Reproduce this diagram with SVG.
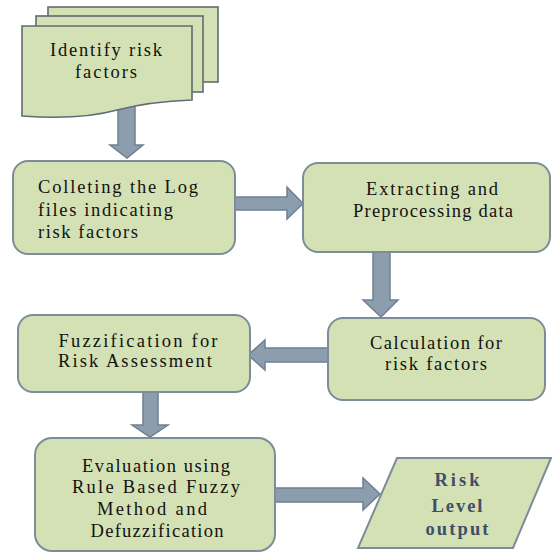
<svg xmlns="http://www.w3.org/2000/svg" width="552" height="554" viewBox="0 0 552 554">
<style>
.box{fill:#d4e1b4;stroke:#7c8c99;stroke-width:2}
.doc{fill:#d4e1b4;stroke:#5f6c72;stroke-width:1.6}
.arr{fill:#8c9dad;stroke:#6e8091;stroke-width:1.5}
.t{font-family:"Liberation Serif","Times New Roman",serif;font-size:18.5px;fill:#111}
.b{font-family:"Liberation Serif","Times New Roman",serif;font-size:18.5px;font-weight:bold;fill:#3e4f69}
</style>
<rect width="552" height="554" fill="#ffffff"/>
<g id="connectors">
<polygon class="arr" points="118,104 135,104 135,145 143,145 127,158 110,145 118,145"/>
<polygon class="arr" points="235,197 287,197 287,187 303,203.5 287,219 287,210 235,210"/>
<polygon class="arr" points="373,252 390,252 390,300 398,300 381,317 363,300 373,300"/>
<polygon class="arr" points="328,348 265,348 265,340 248,355 265,370 265,362 328,362"/>
<polygon class="arr" points="143,392 158,392 158,425 168,425 150,437 132,425 143,425"/>
<polygon class="arr" points="275,488 363,488 363,478 380,494 363,510 363,502 275,502"/>
</g>
<g id="node-identify">
<rect class="doc" x="48" y="7" width="170" height="75"/>
<rect class="doc" x="36" y="16" width="167" height="76"/>
<path class="doc" d="M22,26 H192 V100 C165,101 140,104 117,110 C92,117 62,119 22,116 Z"/>
<text class="t" x="106" y="56" text-anchor="middle" textLength="112" lengthAdjust="spacing">Identify risk</text>
<text class="t" x="106" y="78" text-anchor="middle" textLength="62" lengthAdjust="spacing">factors</text>
</g>
<g id="node-collect">
<rect class="box" x="13" y="161" width="222" height="93" rx="15"/>
<text class="t" x="38" y="193" textLength="160" lengthAdjust="spacing">Colleting the Log</text>
<text class="t" x="38" y="216" textLength="135" lengthAdjust="spacing">files indicating</text>
<text class="t" x="38" y="238" textLength="100" lengthAdjust="spacing">risk factors</text>
</g>
<g id="node-extract">
<rect class="box" x="303" y="163" width="247" height="89" rx="15"/>
<text class="t" x="432" y="195" text-anchor="middle" textLength="132" lengthAdjust="spacing">Extracting and</text>
<text class="t" x="433" y="217" text-anchor="middle" textLength="160" lengthAdjust="spacing">Preprocessing data</text>
</g>
<g id="node-calc">
<rect class="box" x="328" y="318" width="217" height="82" rx="15"/>
<text class="t" x="436" y="349" text-anchor="middle" textLength="132" lengthAdjust="spacing">Calculation for</text>
<text class="t" x="436" y="370" text-anchor="middle" textLength="102" lengthAdjust="spacing">risk factors</text>
</g>
<g id="node-fuzz">
<rect class="box" x="18" y="315" width="232" height="77" rx="15"/>
<text class="t" x="138" y="347" text-anchor="middle" textLength="159" lengthAdjust="spacing">Fuzzification for</text>
<text class="t" x="135" y="367" text-anchor="middle" textLength="154" lengthAdjust="spacing">Risk Assessment</text>
</g>
<g id="node-eval">
<rect class="box" x="35" y="438" width="240" height="113" rx="17"/>
<text class="t" x="156" y="472" text-anchor="middle" textLength="148" lengthAdjust="spacing">Evaluation using</text>
<text class="t" x="156" y="493" text-anchor="middle" textLength="168" lengthAdjust="spacing">Rule Based Fuzzy</text>
<text class="t" x="152" y="515" text-anchor="middle" textLength="110" lengthAdjust="spacing">Method and</text>
<text class="t" x="157" y="537" text-anchor="middle" textLength="133" lengthAdjust="spacing">Defuzzification</text>
</g>
<g id="node-output">
<polygon class="box" points="397,458 551,458 513,548 358,548"/>
<text class="b" x="457" y="486" text-anchor="middle" textLength="45" lengthAdjust="spacing">Risk</text>
<text class="b" x="457" y="512" text-anchor="middle" textLength="51" lengthAdjust="spacing">Level</text>
<text class="b" x="457" y="535" text-anchor="middle" textLength="63" lengthAdjust="spacing">output</text>
</g>
</svg>
